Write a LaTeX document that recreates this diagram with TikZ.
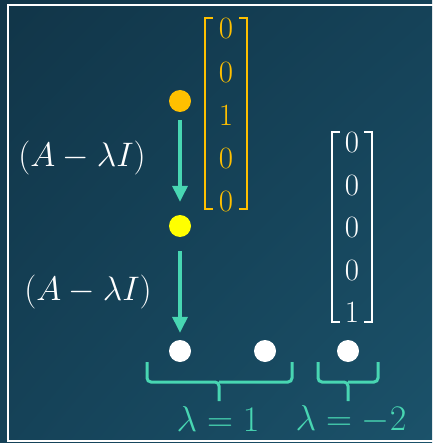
\documentclass[tikz,border=0pt]{standalone}
\usepackage{fix-cm}
\usepackage{amsmath}
\usetikzlibrary{arrows.meta,positioning,calc,shadings}
\definecolor{bgdark}{RGB}{17,53,72}
\definecolor{bgmid}{RGB}{21,66,88}
\definecolor{bglight}{RGB}{27,82,106}
\definecolor{tealarr}{RGB}{72,214,178}
\definecolor{goldvec}{RGB}{255,192,0}
\definecolor{yellowdot}{RGB}{255,255,0}
\tikzset{
  bigfont/.style={font=\fontsize{31}{37}\selectfont},
  opfont/.style={font=\fontsize{34}{40}\selectfont},
  lamfont/.style={font=\fontsize{36}{42}\selectfont},
  dotnode/.style={circle,inner sep=0pt,minimum size=22pt},
  entry/.style={bigfont,inner sep=0pt,anchor=center},
  steparr/.style={-{Triangle[width=15pt,length=16pt]},line width=3.5pt,color=tealarr},
  bracketline/.style={line width=2pt},
  bracebar/.style={line width=3pt,color=tealarr,rounded corners=4pt}
}

\begin{document}
\begin{tikzpicture}[x=1pt,y=-1pt]
  \useasboundingbox (0,0) rectangle (432,443);
  \shade[upper left=bgdark,upper right=bgmid,lower left=bgmid,lower right=bglight]
    (0,0) rectangle (432,443);
  \draw[white,line width=1.8pt] (440,5) -- (8,5) -- (8,441) -- (440,441);

  \node[dotnode,fill=goldvec] (gen2) at (180,101) {};
  \node[dotnode,fill=yellowdot] (gen1) at (180,226) {};
  \node[dotnode,fill=white] (eigA) at (180,351) {};
  \node[dotnode,fill=white] (eigB) at (265,351) {};
  \node[dotnode,fill=white] (eigC) at (348,351) {};

  \draw[steparr,shorten <=8pt,shorten >=13pt] (gen2) -- (gen1);
  \draw[steparr,shorten <=14pt,shorten >=7pt] (gen1) -- (eigA);

  \node[opfont,text=white] (op1) at (82,158) {$(A-\lambda I)$};
  \node[opfont,text=white] (op2) at (88,292) {$(A-\lambda I)$};

  % generalized eigenvector
  \foreach \v [count=\k] in {0,0,1,0,0}
    \node[entry,text=goldvec] (g\k) at (226,{29+43.2*(\k-1)}) {$\v$};
  \draw[bracketline,goldvec] (213,18) -- (205,18) -- (205,209) -- (213,209);
  \draw[bracketline,goldvec] (239,18) -- (247,18) -- (247,209) -- (239,209);

  % eigenvector for lambda = -2
  \foreach \v [count=\k] in {0,0,0,0,1}
    \node[entry,text=white] (w\k) at (352,{143+42.5*(\k-1)}) {$\v$};
  \draw[bracketline,white] (340,132) -- (332,132) -- (332,322) -- (340,322);
  \draw[bracketline,white] (364,132) -- (372,132) -- (372,322) -- (364,322);

  \draw[bracebar] (147,362) |- (219,382) -- (219,401);
  \draw[bracebar] (292,362) |- (219,382);
  \draw[bracebar] (318,362) |- (348,382) -- (348,401);
  \draw[bracebar] (378,362) |- (348,382);

  \node[lamfont,text=tealarr] (lamA) at (218,419) {$\lambda=1$};
  \node[lamfont,text=tealarr] (lamB) at (351,419) {$\lambda=-2$};
\end{tikzpicture}
\end{document}
